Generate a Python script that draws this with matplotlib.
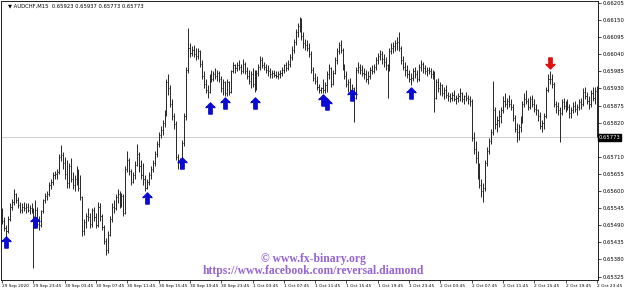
import numpy as np
import matplotlib
matplotlib.use("Agg")
import matplotlib.pyplot as plt
from matplotlib.collections import LineCollection
from matplotlib.path import Path

# AUDCHF M15 bars, prices in 1e-5 units (points), 16 bars per row
highs = np.array([
    65545, 65515, 65490, 65520, 65560, 65575, 65605, 65595, 65580, 65565, 65560, 65565, 65560, 65562, 65555, 65560,
    65545, 65570, 65550, 65520, 65540, 65575, 65595, 65600, 65630, 65640, 65660, 65665, 65670, 65720, 65748, 65725,
    65710, 65700, 65690, 65705, 65660, 65650, 65680, 65670, 65650, 65585, 65510, 65530, 65545, 65530, 65545, 65550,
    65530, 65565, 65560, 65525, 65490, 65450, 65470, 65520, 65560, 65570, 65590, 65605, 65600, 65595, 65590, 65680,
    65728, 65705, 65670, 65660, 65695, 65750, 65725, 65700, 65690, 65650, 65640, 65660, 65680, 65700, 65730, 65760,
    65790, 65810, 65830, 65860, 65960, 65975, 65940, 65895, 65850, 65825, 65720, 65705, 65765, 65850, 66000, 66124,
    66075, 66065, 66070, 66060, 66060, 66055, 66020, 65985, 65960, 65940, 65975, 65990, 65985, 65995, 65990, 65985,
    65970, 65960, 65955, 65960, 65955, 65990, 66015, 66010, 66015, 66020, 66010, 66025, 66015, 66000, 65990, 65985,
    65995, 65990, 65990, 66010, 66035, 66030, 66015, 66010, 66005, 65995, 65990, 65990, 65985, 65985, 65990, 66000,
    66010, 66015, 66020, 66040, 66065, 66090, 66120, 66140, 66160, 66155, 66110, 66090, 66085, 66075, 66050, 66000,
    65980, 65970, 65945, 65935, 65960, 65950, 65985, 66010, 66000, 65990, 66030, 66060, 66080, 66086, 66060, 66010,
    65985, 65960, 65965, 65945, 65935, 66000, 66015, 66010, 66005, 65995, 65990, 65985, 66000, 66005, 66010, 66030,
    66045, 66055, 66050, 66040, 66030, 66010, 66060, 66075, 66080, 66085, 66095, 66112, 66065, 66035, 66015, 66005,
    65990, 65980, 65995, 66000, 65990, 66010, 66020, 66015, 66005, 66000, 66000, 65995, 65990, 65985, 65960, 65965,
    65950, 65945, 65935, 65940, 65920, 65915, 65920, 65925, 65910, 65915, 65930, 65920, 65910, 65920, 65910, 65905,
    65895, 65790, 65760, 65730, 65690, 65640, 65625, 65700, 65740, 65770, 65800, 65955, 65870, 65840, 65860, 65870,
    65905, 65915, 65900, 65910, 65895, 65880, 65845, 65820, 65815, 65840, 65890, 65915, 65925, 65900, 65905, 65910,
    65895, 65880, 65865, 65855, 65830, 65850, 65935, 65975, 65985, 65975, 65950, 65890, 65885, 65870, 65895, 65900,
    65890, 65895, 65880, 65870, 65885, 65890, 65880, 65895, 65900, 65930, 65935, 65920, 65905, 65925, 65935, 65935,
    65937,
]) / 1e5

lows = np.array([
    65495, 65470, 65448, 65465, 65505, 65540, 65555, 65560, 65545, 65530, 65528, 65535, 65530, 65532, 65525, 65530,
    65352, 65535, 65485, 65475, 65485, 65530, 65560, 65570, 65585, 65605, 65620, 65640, 65640, 65655, 65695, 65670,
    65640, 65610, 65610, 65630, 65605, 65600, 65620, 65600, 65570, 65455, 65460, 65480, 65505, 65480, 65485, 65505,
    65480, 65485, 65505, 65475, 65430, 65394, 65400, 65455, 65500, 65530, 65540, 65560, 65545, 65550, 65520, 65525,
    65660, 65650, 65620, 65625, 65640, 65680, 65660, 65640, 65620, 65600, 65606, 65620, 65640, 65660, 65680, 65710,
    65740, 65770, 65780, 65805, 65840, 65910, 65870, 65830, 65800, 65700, 65670, 65672, 65700, 65745, 65830, 65980,
    66030, 66035, 66030, 66020, 66025, 66000, 65960, 65930, 65915, 65899, 65915, 65950, 65955, 65960, 65955, 65950,
    65920, 65910, 65905, 65905, 65910, 65915, 65980, 65980, 65985, 65990, 65975, 65980, 65975, 65960, 65945, 65930,
    65935, 65920, 65925, 65970, 65990, 65995, 65990, 65980, 65970, 65965, 65965, 65968, 65965, 65960, 65965, 65970,
    65980, 65985, 65990, 66000, 66020, 66045, 66070, 66095, 66110, 66085, 66060, 66055, 66050, 66030, 65980, 65955,
    65945, 65925, 65915, 65915, 65915, 65915, 65920, 65960, 65935, 65940, 65975, 66010, 66040, 66045, 65990, 65960,
    65935, 65920, 65915, 65905, 65822, 65895, 65980, 65975, 65970, 65960, 65950, 65945, 65960, 65975, 65980, 65990,
    66010, 66020, 66010, 66000, 65990, 65899, 65985, 66040, 66045, 66050, 66055, 66050, 66010, 65990, 65970, 65965,
    65950, 65940, 65955, 65965, 65950, 65955, 65985, 65980, 65975, 65970, 65975, 65965, 65960, 65854, 65895, 65920,
    65910, 65905, 65895, 65900, 65890, 65885, 65890, 65890, 65880, 65885, 65890, 65885, 65880, 65890, 65880, 65875,
    65760, 65720, 65690, 65640, 65610, 65580, 65564, 65600, 65680, 65720, 65750, 65780, 65800, 65790, 65805, 65820,
    65850, 65870, 65865, 65870, 65860, 65825, 65790, 65757, 65765, 65790, 65820, 65870, 65880, 65860, 65865, 65870,
    65855, 65845, 65825, 65800, 65790, 65800, 65835, 65920, 65945, 65930, 65870, 65850, 65845, 65757, 65845, 65865,
    65855, 65860, 65835, 65835, 65850, 65855, 65845, 65860, 65865, 65875, 65895, 65880, 65865, 65870, 65890, 65880,
    65773,
]) / 1e5

closes = np.array([
    65505, 65480, 65470, 65510, 65550, 65565, 65590, 65570, 65555, 65540, 65550, 65545, 65548, 65540, 65545, 65535,
    65520, 65540, 65495, 65490, 65535, 65570, 65585, 65590, 65620, 65630, 65650, 65655, 65660, 65710, 65715, 65690,
    65655, 65625, 65680, 65640, 65620, 65640, 65665, 65610, 65580, 65470, 65500, 65520, 65515, 65495, 65540, 65515,
    65490, 65550, 65520, 65485, 65440, 65410, 65460, 65510, 65550, 65545, 65580, 65590, 65560, 65585, 65530, 65670,
    65700, 65665, 65630, 65650, 65685, 65720, 65680, 65650, 65640, 65610, 65630, 65650, 65670, 65690, 65720, 65750,
    65780, 65795, 65820, 65850, 65950, 65930, 65880, 65840, 65815, 65710, 65690, 65695, 65755, 65840, 65990, 66060,
    66045, 66055, 66040, 66035, 66050, 66010, 65970, 65945, 65925, 65920, 65965, 65960, 65975, 65970, 65980, 65960,
    65930, 65950, 65915, 65950, 65920, 65985, 66005, 65995, 66005, 66000, 65985, 66010, 65985, 65970, 65955, 65975,
    65945, 65930, 65980, 66000, 66020, 66005, 66000, 65990, 65985, 65975, 65980, 65972, 65970, 65975, 65980, 65990,
    66005, 65995, 66010, 66030, 66055, 66080, 66110, 66130, 66145, 66100, 66075, 66070, 66060, 66040, 65990, 65965,
    65955, 65935, 65925, 65930, 65925, 65940, 65975, 65995, 65945, 65980, 66020, 66050, 66070, 66055, 66000, 65970,
    65945, 65950, 65925, 65930, 65900, 65990, 66000, 65990, 65980, 65975, 65960, 65970, 65990, 65985, 66000, 66020,
    66035, 66040, 66025, 66015, 66005, 65990, 66050, 66060, 66065, 66075, 66080, 66060, 66020, 66000, 65990, 65975,
    65960, 65965, 65985, 65975, 65960, 66000, 66010, 65995, 65985, 65990, 65985, 65975, 65970, 65900, 65950, 65930,
    65940, 65915, 65925, 65910, 65905, 65900, 65910, 65895, 65900, 65905, 65915, 65895, 65905, 65900, 65895, 65890,
    65770, 65735, 65705, 65660, 65620, 65600, 65610, 65690, 65730, 65760, 65790, 65860, 65815, 65830, 65840, 65860,
    65890, 65880, 65890, 65880, 65870, 65835, 65800, 65790, 65805, 65830, 65880, 65895, 65890, 65870, 65895, 65880,
    65865, 65860, 65840, 65810, 65820, 65840, 65925, 65960, 65960, 65945, 65880, 65875, 65860, 65850, 65885, 65875,
    65880, 65870, 65850, 65860, 65875, 65865, 65870, 65885, 65880, 65920, 65905, 65890, 65880, 65915, 65900, 65923,
    65773,
]) / 1e5
first_open = 0.65530

# signal arrows: bar index and price where the arrow sits
buy_idx = [2, 17, 74, 92, 106, 114, 129, 164, 166, 179, 209]
buy_price = np.array([65436, 65500, 65578, 65690, 65867, 65883, 65883, 65893, 65880, 65909, 65916]) / 1e5
sell_idx = [280]
sell_price = np.array([66012]) / 1e5

last_price = 0.65773
header = "\u25bc AUDCHF,M15  0.65923 0.65937 0.65773 0.65773"

time_labels = ["29 Sep 2020", "29 Sep 23:45", "30 Sep 03:45", "30 Sep 07:45", "30 Sep 11:45",
               "30 Sep 15:45", "30 Sep 19:45", "30 Sep 23:45", "1 Oct 03:45", "1 Oct 07:45",
               "1 Oct 11:45", "1 Oct 15:45", "1 Oct 19:45", "1 Oct 23:45", "2 Oct 03:45",
               "2 Oct 07:45", "2 Oct 11:45", "2 Oct 15:45", "2 Oct 19:45", "2 Oct 23:45"]
bars_per_label = 16
price_ticks = [0.65325, 0.65380, 0.65435, 0.65490, 0.65545, 0.65600, 0.65655, 0.65710,
               0.65820, 0.65875, 0.65930, 0.65985, 0.66040, 0.66095, 0.66150, 0.66205]

small_font = "DejaVu Sans"

fig = plt.figure(figsize=(6.25, 2.88), dpi=100)
ax = fig.add_axes([1 / 625, 8 / 288, 597 / 625, 279 / 288])

n = len(closes)
x = np.arange(n)
opens = np.concatenate([[first_open], closes[:-1]])
top = np.maximum(highs, np.maximum(opens, closes))
bot = np.minimum(lows, np.minimum(opens, closes))

segs = []
for i in range(n):
    segs.append([(x[i], bot[i]), (x[i], top[i])])
    segs.append([(x[i] - 0.3, opens[i]), (x[i], opens[i])])
    segs.append([(x[i], closes[i]), (x[i] + 0.3, closes[i])])
ax.add_collection(LineCollection(segs, colors="#262626", linewidths=0.7))

# current price line
ax.axhline(last_price, color="#c4c4c4", lw=0.6, zorder=0)

up_arrow = Path([(0, 1), (0.8, 0.15), (0.3, 0.35), (0.3, -1), (-0.3, -1),
                 (-0.3, 0.35), (-0.8, 0.15), (0, 1)],
                [Path.MOVETO] + [Path.LINETO] * 6 + [Path.CLOSEPOLY])
down_arrow = Path([(vx, -vy) for vx, vy in up_arrow.vertices], up_arrow.codes)
ax.plot(buy_idx, buy_price, ls="none", marker=up_arrow, ms=8,
        color="#0a0ad2", mec="#0a0ad2", zorder=5)
ax.plot(sell_idx, sell_price, ls="none", marker=down_arrow, ms=8,
        color="#e01010", mec="#e01010", zorder=5)

ax.set_xlim(-0.6, n - 0.4)
ax.set_ylim(0.65314, 0.66211)

for s in ax.spines.values():
    s.set_color("#202020")
    s.set_linewidth(0.7)

ax.yaxis.tick_right()
ax.set_yticks(price_ticks)
ax.set_yticklabels([f"{p:.5f}" for p in price_ticks], fontsize=3.8, family=small_font)
ax.tick_params(axis="y", direction="out", length=2, width=0.5, pad=1.5)

ax.set_xticks(np.arange(len(time_labels)) * bars_per_label)
ax.set_xticklabels(time_labels, fontsize=3.1, family=small_font, ha="left")
ax.tick_params(axis="x", direction="out", length=2, width=0.5, pad=0.8)

# price box on the right axis
ax.text(1.0015, last_price, f"{last_price:.5f}", transform=ax.get_yaxis_transform(),
        ha="left", va="center", fontsize=3.8, family=small_font, color="white",
        bbox=dict(boxstyle="square,pad=0.15", fc="black", ec="black"), clip_on=False)

ax.text(0.012, 0.993, header, transform=ax.transAxes, ha="left", va="top",
        fontsize=3.8, family=small_font, color="black")

wm = "#9563d3"
ax.text(0.523, 0.075, "\u00a9 www.fx-binary.org", transform=ax.transAxes,
        ha="center", va="center", fontsize=8.4, fontweight="bold",
        family=["Liberation Serif", "DejaVu Serif"], color=wm)
ax.text(0.523, 0.032, "https://www.facebook.com/reversal.diamond", transform=ax.transAxes,
        ha="center", va="center", fontsize=8.4, fontweight="bold",
        family=["Liberation Serif", "DejaVu Serif"], color=wm)

fig.savefig("out.png", dpi=100, facecolor="white")
